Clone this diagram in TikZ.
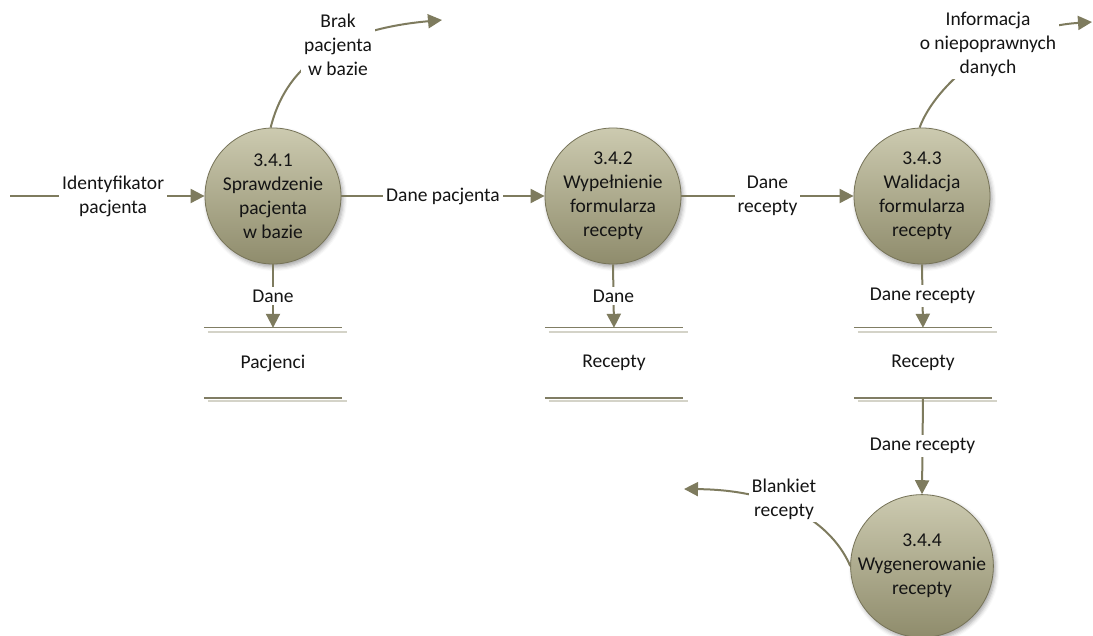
\documentclass[tikz,border=0pt]{standalone}
\usepackage{fontspec}
\setmainfont{Carlito}
\usetikzlibrary{arrows.meta,shadows.blur}
\definecolor{flow}{RGB}{126,123,94}
\definecolor{proctop}{RGB}{204,202,176}
\definecolor{procbot}{RGB}{143,140,108}
\definecolor{procborder}{RGB}{118,115,88}
\definecolor{storedark}{RGB}{128,125,100}
\definecolor{storelight}{RGB}{212,211,200}
\definecolor{txt}{RGB}{20,20,20}
\tikzset{
  proc/.style={circle, minimum size=136pt, inner sep=0pt, align=center,
    draw=procborder, line width=0.8pt, top color=proctop, bottom color=procbot,
    text=txt,
    blur shadow={shadow xshift=2pt, shadow yshift=-3pt, shadow blur radius=4pt, shadow opacity=35}},
  datastore/.style={minimum width=138pt, minimum height=70pt, inner sep=0pt, text=txt},
  flowline/.style={draw=flow, line width=2pt, -{Triangle[length=14pt,width=14pt]}},
  flowlabel/.style={fill=white, inner sep=3pt, align=center, text=txt},
  storeline/.style={draw=storedark, line width=1.4pt},
  storeshadow/.style={draw=storelight, line width=2pt}
}
\begin{document}
\begin{tikzpicture}[x=1pt,y=-1pt,font=\fontsize{19.5}{24}\selectfont]
\useasboundingbox (0,0) rectangle (1093,636);

% processes
\node[proc] (c1) at (273,196) {3.4.1\\Sprawdzenie\\pacjenta\\w bazie};
\node[proc] (c2) at (613,196) {3.4.2\\Wypełnienie\\formularza\\recepty};
\node[proc] (c3) at (922,196) {3.4.3\\Walidacja\\formularza\\recepty};
\node[proc] (c4) at (922,566) {3.4.4\\Wygenerowanie\\recepty};

% data stores
\node[datastore] (s1) at (273,363) {Pacjenci};
\node[datastore] (s2) at (614,363) {Recepty};
\node[datastore] (s3) at (923,363) {Recepty};
\foreach \s in {s1,s2,s3}{
  \draw[storeshadow] ([shift={(4,4)}]\s.north west) -- ([shift={(5,4)}]\s.north east);
  \draw[storeshadow] ([shift={(4,3)}]\s.south west) -- ([shift={(5,3)}]\s.south east);
  \draw[storeline] (\s.north west) -- (\s.north east);
  \draw[storeline] (\s.south west) -- (\s.south east);
}

% external ends
\coordinate (in1) at (10,196);
\coordinate (o1) at (442,20);
\coordinate (o3) at (1092,22);
\coordinate (o4) at (684,489);

% flows
\draw[flowline] (in1) -- node[flowlabel, pos=0.53] {Identyfikator\\pacjenta} (c1);
\draw[flowline] (c1) -- node[flowlabel] {Dane pacjenta} (c2);
\draw[flowline] (c2) -- node[flowlabel] {Dane\\recepty} (c3);
\draw[flowline] (c1.south) -- node[flowlabel] {Dane} (s1.north);
\draw[flowline] (c2.south) -- node[flowlabel] {Dane} (s2.north);
\draw[flowline] (c3.south) -- node[flowlabel] {Dane recepty} (s3.north);
\draw[flowline] (s3.south) -- node[flowlabel] {Dane recepty} (c4.north);

\draw[flowline] (c1.92) .. controls (285,70) and (330,30) .. (o1);
\node[flowlabel] (l1) at (338,45) {Brak\\pacjenta\\w bazie};

\draw[flowline] (c3.92) .. controls (935,85) and (1000,28) .. (o3);
\node[flowlabel] (l3) at (988,44) {Informacja\\o niepoprawnych\\danych};

\draw[flowline] (c4.west) .. controls (835,530) and (790,490) .. (o4);
\node[flowlabel] (l4) at (784,499) {Blankiet\\recepty};
\end{tikzpicture}
\end{document}
